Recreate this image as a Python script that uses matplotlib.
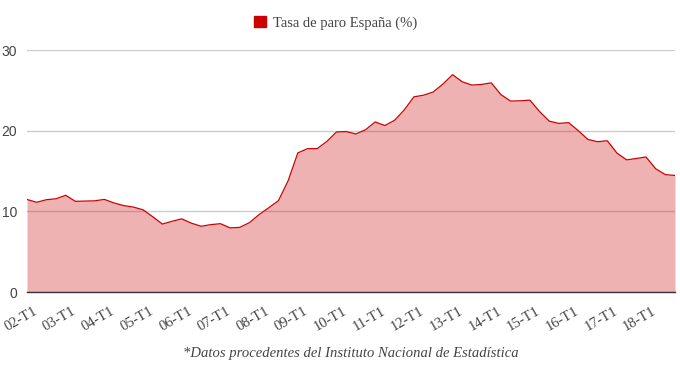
import matplotlib
matplotlib.use("Agg")
import matplotlib.pyplot as plt
import matplotlib.transforms as mtransforms
from matplotlib.patches import Patch

years = list(range(2, 19))
quarters = ["T1", "T2", "T3", "T4"]
periods = ["%02d-%s" % (y, q) for y in years for q in quarters]

paro = [11.47, 11.12, 11.44, 11.56,
        11.99, 11.24, 11.27, 11.30,
        11.48, 11.04, 10.71, 10.53,
        10.19, 9.33, 8.42, 8.77,
        9.07, 8.53, 8.15, 8.35,
        8.47, 7.95, 8.01, 8.60,
        9.60, 10.44, 11.33, 13.79,
        17.24, 17.77, 17.77, 18.66,
        19.84, 19.89, 19.59, 20.11,
        21.08, 20.64, 21.28, 22.56,
        24.19, 24.40, 24.79, 25.77,
        26.94, 26.06, 25.65, 25.73,
        25.93, 24.47, 23.67, 23.70,
        23.78, 22.37, 21.18, 20.90,
        21.00, 20.00, 18.91, 18.63,
        18.75, 17.22, 16.38, 16.55,
        16.74, 15.28, 14.55, 14.45]

yticks = [0, 10, 20, 30]
red = "#cc0000"
serif = ["Liberation Serif", "DejaVu Serif"]

fig = plt.figure(figsize=(6.8, 3.68), dpi=100)
ax = fig.add_axes([27 / 680, 76 / 368, 648 / 680, 242 / 368])

x = list(range(len(paro)))
ax.fill_between(x, 0, paro, color=red, alpha=0.3, linewidth=0, zorder=2)
ax.plot(x, paro, color=red, linewidth=0.9, zorder=3)

ax.set_xlim(0, len(paro) - 1)
ax.set_ylim(0, 30)
ax.set_yticks(yticks)
ax.set_yticklabels([str(v) for v in yticks], fontfamily="Liberation Sans",
                   fontsize=10, color="#444444")
ax.grid(axis="y", color="#cccccc", linewidth=1, zorder=1)
ax.set_axisbelow(True)

tick_pos = x[::4]
ax.set_xticks(tick_pos)
ax.set_xticklabels(periods[::4], rotation=30, ha="right",
                   rotation_mode="anchor", fontfamily=serif,
                   fontsize=10.5, color="#444444")
ax.tick_params(axis="both", length=0, pad=7)
ax.tick_params(axis="x", pad=9)

# nudge the rotated labels a little to the right, like the original
shift = mtransforms.ScaledTranslation(6 / 100, 0, fig.dpi_scale_trans)
for lab in ax.get_xticklabels():
    lab.set_transform(lab.get_transform() + shift)

for s in ["top", "right", "left"]:
    ax.spines[s].set_visible(False)
ax.spines["bottom"].set_color("#333333")
ax.spines["bottom"].set_linewidth(1)
ax.spines["bottom"].set_zorder(4)

fig.legend(handles=[Patch(color=red)], labels=["Tasa de paro España (%)"],
           loc="center", bbox_to_anchor=(336 / 680, 1 - 23 / 368),
           frameon=False, handlelength=0.8, handleheight=0.8,
           handletextpad=0.5, prop={"family": serif, "size": 10.5},
           labelcolor="#444444")

fig.text(351 / 680, 1 - 353 / 368,
         "*Datos procedentes del Instituto Nacional de Estadística",
         ha="center", va="center", fontfamily=serif, fontstyle="italic",
         fontsize=10.5, color="#444444")

fig.savefig("out.png", dpi=100)
